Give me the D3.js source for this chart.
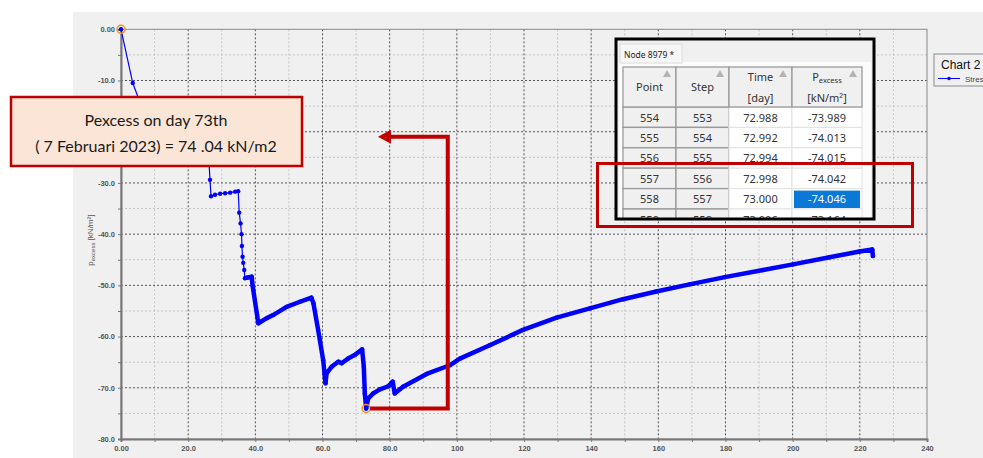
<!DOCTYPE html>
<html>
<head>
<meta charset="utf-8">
<script src="https://cdn.jsdelivr.net/npm/d3@7"></script>
<style>
  body { margin: 0; background: #ffffff; }
  svg { display: block; }
</style>
</head>
<body>
<svg id="canvas" width="983" height="458"></svg>
<script>
// curve values
let days = [0, 3.5, 5.5, 15, 25.8, 26.2, 26.5, 26.8, 28, 29.5, 31, 32.5, 34, 34.9,
    35.2, 35.6, 35.9, 36.0, 36.2, 36.4, 36.7, 36.9, 37.5, 38.2, 38.9, 39.2, 40.9,
    43.4, 45.3, 49.3, 53.3, 56.7, 57.3, 58.7, 60.2, 60.9, 61.2, 62.7, 64.7, 65.7,
    67.6, 69.6, 71.8, 72.3, 72.6, 73.0, 73.6, 75.1, 77.1, 79.6, 80.9, 81.5, 84.0,
    91.0, 97.9, 100.9, 109.8, 119.7, 129.7, 139.6, 149.5, 159.4, 169.3, 179.8,
    191.2, 200.1, 211.0, 219.9, 223.7, 223.9]
let pexcess = [0, -10.5, -14, -19, -23, -26, -29.4, -32.6, -32.3, -32.1, -32.0, -31.9,
    -31.7, -31.6, -35.8, -37.9, -40.0, -42.3, -44.4, -45.6, -47.0, -48.6, -48.5,
    -48.4, -48.3, -50.1, -57.4, -56.4, -55.8, -54.2, -53.2, -52.4, -53.5, -58.7,
    -64.6, -69.1, -67.2, -65.9, -64.9, -65.2, -64.3, -63.6, -62.5, -65.9, -71.1,
    -74.05, -72.1, -71.1, -70.3, -69.7, -68.8, -71.1, -69.8, -67.3, -65.6, -64.3,
    -61.7, -58.7, -56.3, -54.5, -52.7, -51.2, -49.8, -48.4, -47.0, -45.9, -44.5,
    -43.4, -43.0, -44.3]

let xTicks = [0, 20, 40, 60, 80, 100, 120, 140, 160, 180, 200, 220, 240]
let yTicks = [0, -10, -20, -30, -40, -50, -60, -70, -80]

// selected points (orange rings)
let markedDays = [0, 73.0]
let markedValues = [0, -74.046]

// annotation
let noteLines = ['Pexcess on day 73th', '( 7 Februari 2023) = 74 .04 kN/m2']
let arrowDay = 97.3
let arrowTopValue = -21.0
let arrowTipDay = 76.5

// table snapshot
let tableTab = 'Node 8979 *'
let colPoint = ['554', '555', '556', '557', '558', '559']
let colStep = ['553', '554', '555', '556', '557', '558']
let colTime = ['72.988', '72.992', '72.994', '72.998', '73.000', '73.006']
let colPex = ['-73.989', '-74.013', '-74.015', '-74.042', '-74.046', '-73.164']
let selectedRow = 4

let legendTitle = 'Chart 2'
let legendSeries = 'Stress'

let points = days.map((d, i) => ({ day: d, p: pexcess[i] }))

let canvas = d3.select('#canvas')

let plotLeft = 121, plotRight = 927, plotTop = 29.3, plotBottom = 439

let xScale = d3.scaleLinear().domain([0, 240]).range([plotLeft, plotRight])
let yScale = d3.scaleLinear().domain([0, -80]).range([plotTop, plotBottom])

// grey panel
canvas.append('rect')
      .attr('x', 73).attr('y', 12)
      .attr('width', 910).attr('height', 446)
      .attr('fill', '#f0f0f0')

// minor grid
let minorX = d3.range(10, 240, 20)
let minorY = d3.range(-5, -80, -10)
canvas.append('g').selectAll('line')
      .data(minorX).enter().append('line')
      .attr('x1', (d) => xScale(d)).attr('x2', (d) => xScale(d))
      .attr('y1', plotTop).attr('y2', plotBottom)
      .attr('stroke', '#c4c4c4').attr('stroke-dasharray', '2,2')
canvas.append('g').selectAll('line')
      .data(minorY).enter().append('line')
      .attr('y1', (d) => yScale(d)).attr('y2', (d) => yScale(d))
      .attr('x1', plotLeft).attr('x2', plotRight)
      .attr('stroke', '#c4c4c4').attr('stroke-dasharray', '2,2')

// major grid
canvas.append('g').selectAll('line')
      .data(xTicks.slice(1, -1)).enter().append('line')
      .attr('x1', (d) => xScale(d)).attr('x2', (d) => xScale(d))
      .attr('y1', plotTop).attr('y2', plotBottom)
      .attr('stroke', '#555').attr('stroke-dasharray', '2,2')
canvas.append('g').selectAll('line')
      .data(yTicks.slice(1, -1)).enter().append('line')
      .attr('y1', (d) => yScale(d)).attr('y2', (d) => yScale(d))
      .attr('x1', plotLeft).attr('x2', plotRight)
      .attr('stroke', '#555').attr('stroke-dasharray', '2,2')

// frame
canvas.append('rect')
      .attr('x', plotLeft).attr('y', plotTop)
      .attr('width', plotRight - plotLeft).attr('height', plotBottom - plotTop)
      .attr('fill', 'none').attr('stroke', '#8a8a8a').attr('stroke-width', 1)

// axes
let xFormat = (d) => d === 0 ? '0.00' : (d < 100 ? d.toFixed(1) : String(d))
let yFormat = (d) => d === 0 ? '0.00' : d.toFixed(1)

let xAxis = canvas.append('g')
      .attr('transform', 'translate(0,' + plotBottom + ')')
      .call(d3.axisBottom(xScale).tickValues(d3.range(0, 241, 10))
             .tickFormat((d) => xTicks.includes(d) ? xFormat(d) : '')
             .tickSize(3).tickPadding(4))
let yAxis = canvas.append('g')
      .attr('transform', 'translate(' + plotLeft + ',0)')
      .call(d3.axisLeft(yScale).tickValues(d3.range(0, -81, -5))
             .tickFormat((d) => yTicks.includes(d) ? yFormat(d) : '')
             .tickSize(3).tickPadding(3))

;[xAxis, yAxis].forEach((ax) => {
    ax.select('.domain').attr('stroke', '#777').attr('stroke-width', 2)
    ax.selectAll('.tick line').attr('stroke', '#777')
    ax.selectAll('text')
      .attr('fill', '#555')
      .style('font-family', 'Liberation Sans, Arial, sans-serif')
      .style('font-size', '7.5px')
      .style('font-weight', 'bold')
})

// y label
let yLabel = canvas.append('text')
      .attr('transform', 'translate(93,' + ((plotTop + plotBottom) / 2 + 6) + ') rotate(-90)')
      .attr('text-anchor', 'middle')
      .attr('fill', '#555')
      .style('font-family', 'Liberation Sans, Arial, sans-serif')
      .style('font-size', '8px')
yLabel.append('tspan').text('p')
yLabel.append('tspan').attr('dy', 2).style('font-size', '6px').text('excess')
yLabel.append('tspan').attr('dy', -2).text(' [kN/m²]')

// curve
let line = d3.line().x((d) => xScale(d.day)).y((d) => yScale(d.p))

canvas.append('path')
      .attr('d', line(points))
      .attr('fill', 'none').attr('stroke', '#0000ff').attr('stroke-width', 1.2)

// dense part of the record reads as a heavy band
let denseStart = days.indexOf(36.9)
canvas.append('path')
      .attr('d', line(points.slice(denseStart)))
      .attr('fill', 'none').attr('stroke', '#0000ff').attr('stroke-width', 4.5)
      .attr('stroke-linejoin', 'round')

canvas.append('g').selectAll('circle')
      .data(points).enter().append('circle')
      .attr('cx', (d) => xScale(d.day)).attr('cy', (d) => yScale(d.p))
      .attr('r', 2.2).attr('fill', '#0000ff')

canvas.append('g').selectAll('circle')
      .data(markedDays).enter().append('circle')
      .attr('cx', (d) => xScale(d)).attr('cy', (d, i) => yScale(markedValues[i]))
      .attr('r', 4).attr('fill', 'none')
      .attr('stroke', '#f0961e').attr('stroke-width', 1.5)

// red arrow
let minY = yScale(markedValues[1])
canvas.append('path')
      .attr('d', 'M' + (xScale(73) + 4) + ',' + minY +
                 'L' + xScale(arrowDay) + ',' + minY +
                 'L' + xScale(arrowDay) + ',' + yScale(arrowTopValue) +
                 'L' + (xScale(arrowTipDay) + 10) + ',' + yScale(arrowTopValue))
      .attr('fill', 'none').attr('stroke', '#c00000').attr('stroke-width', 4)
let tipX = xScale(arrowTipDay), tipY = yScale(arrowTopValue)
canvas.append('path')
      .attr('d', 'M' + tipX + ',' + tipY + 'L' + (tipX + 13) + ',' + (tipY - 7) +
                 'L' + (tipX + 13) + ',' + (tipY + 7) + 'Z')
      .attr('fill', '#c00000')

// note box
canvas.append('rect')
      .attr('x', 11).attr('y', 97).attr('width', 291).attr('height', 69)
      .attr('fill', '#fbe5d6').attr('stroke', '#c00000').attr('stroke-width', 2.5)
canvas.append('g').selectAll('text')
      .data(noteLines).enter().append('text')
      .attr('x', 156).attr('y', (d, i) => 126 + i * 26)
      .attr('text-anchor', 'middle')
      .attr('fill', '#1a1a1a')
      .style('font-family', 'Lato, sans-serif')
      .style('font-size', '16px')
      .text((d) => d)

// legend
canvas.append('rect')
      .attr('x', 934).attr('y', 54).attr('width', 70).attr('height', 32)
      .attr('fill', '#f0f0f0').attr('stroke', '#8a8a8a')
canvas.append('text')
      .attr('x', 941).attr('y', 69)
      .style('font-family', 'Liberation Sans, Arial, sans-serif')
      .style('font-size', '12px').attr('fill', '#111')
      .text(legendTitle)
canvas.append('line')
      .attr('x1', 938).attr('x2', 960).attr('y1', 78.5).attr('y2', 78.5)
      .attr('stroke', '#0000ff')
canvas.append('circle').attr('cx', 949).attr('cy', 78.5).attr('r', 1.8).attr('fill', '#0000ff')
canvas.append('text')
      .attr('x', 965).attr('y', 81.5)
      .style('font-family', 'Liberation Sans, Arial, sans-serif')
      .style('font-size', '8px').attr('fill', '#444')
      .text(legendSeries)

// table snapshot
let tbl = canvas.append('g')
tbl.append('clipPath').attr('id', 'tclip')
   .append('rect').attr('x', 616).attr('y', 39).attr('width', 258).attr('height', 180)
let tin = tbl.append('g').attr('clip-path', 'url(#tclip)')
tin.append('rect').attr('x', 616).attr('y', 39).attr('width', 258).attr('height', 180).attr('fill', '#f0f0f0')
tin.append('rect').attr('x', 619).attr('y', 62).attr('width', 252).attr('height', 160).attr('fill', '#fbfbfb')
tin.append('rect').attr('x', 620).attr('y', 44).attr('width', 62).attr('height', 19)
   .attr('fill', '#f7f7f7').attr('stroke', '#dcdcdc')
tin.append('text').attr('x', 624).attr('y', 57.5)
   .style('font-family', 'Noto Sans, sans-serif').style('font-size', '8.5px').attr('fill', '#222')
   .text(tableTab)

let colEdges = [623, 676, 729, 792, 862]
let headTop = 67, headBottom = 107, rowH = 20.4
let columns = [colPoint, colStep, colTime, colPex]
let tFont = 'Noto Sans, Open Sans, sans-serif'

// body cells
columns.forEach((col, c) => {
    let x0 = colEdges[c], w = colEdges[c + 1] - colEdges[c]
    col.forEach((v, r) => {
        let y0 = headBottom + r * rowH
        let sel = (c === 3 && r === selectedRow)
        tin.append('rect')
           .attr('x', x0).attr('y', y0).attr('width', w).attr('height', rowH)
           .attr('fill', c < 2 ? '#f0f0f0' : '#ffffff')
           .attr('stroke', c < 2 ? '#9a9a9a' : '#e2e2e2')
           .attr('stroke-width', c < 2 ? 1.3 : 1)
        if (sel) {
            tin.append('rect')
               .attr('x', x0 + 2).attr('y', y0 + 2).attr('width', w - 4).attr('height', rowH - 3)
               .attr('fill', '#0a78d7')
        }
        tin.append('text')
           .attr('x', x0 + w / 2).attr('y', y0 + 14.5)
           .attr('text-anchor', 'middle')
           .style('font-family', tFont).style('font-size', '11px')
           .attr('fill', sel ? '#ffffff' : '#333')
           .text(v)
    })
})

// header cells
let headLines = [['Point'], ['Step'], ['Time', '[day]'], ['P', '[kN/m²]']]
headLines.forEach((lines, c) => {
    let x0 = colEdges[c], w = colEdges[c + 1] - colEdges[c]
    tin.append('rect')
       .attr('x', x0).attr('y', headTop).attr('width', w).attr('height', headBottom - headTop)
       .attr('fill', '#f0f0f0').attr('stroke', '#9a9a9a').attr('stroke-width', 1.3)
    tin.append('path')
       .attr('d', 'M' + (x0 + w - 13) + ',77 L' + (x0 + w - 5) + ',77 L' + (x0 + w - 9) + ',70 Z')
       .attr('fill', '#b4b4b4')
    let cx = x0 + w / 2
    if (lines.length === 1) {
        tin.append('text').attr('x', cx).attr('y', 91).attr('text-anchor', 'middle')
           .style('font-family', tFont).style('font-size', '11px').attr('fill', '#333')
           .text(lines[0])
    } else {
        let t = tin.append('text').attr('x', cx).attr('y', 81).attr('text-anchor', 'middle')
           .style('font-family', tFont).style('font-size', '11px').attr('fill', '#333')
        t.append('tspan').text(lines[0])
        if (c === 3) t.append('tspan').attr('dy', 2).style('font-size', '7.5px').text('excess')
        tin.append('text').attr('x', cx).attr('y', 102).attr('text-anchor', 'middle')
           .style('font-family', tFont).style('font-size', '11px').attr('fill', '#333')
           .text(lines[1])
    }
})

tbl.append('rect').attr('x', 616).attr('y', 39).attr('width', 258).attr('height', 180)
   .attr('fill', 'none').attr('stroke', '#000').attr('stroke-width', 3)

// red highlight
canvas.append('rect')
      .attr('x', 597.5).attr('y', 163.5).attr('width', 315).attr('height', 63)
      .attr('fill', 'none').attr('stroke', '#c00000').attr('stroke-width', 3)
</script>
</body>
</html>
